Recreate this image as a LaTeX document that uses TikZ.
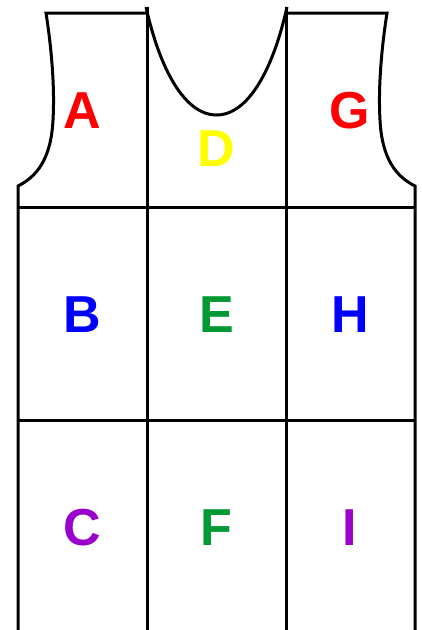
\documentclass[tikz,border=0pt]{standalone}
\usepackage{fontspec}
\setmainfont{Liberation Sans}
\usepackage{xcolor}
\usepackage{tikz}
\usetikzlibrary{positioning}
\definecolor{ltrred}{RGB}{255,0,0}
\definecolor{ltryellow}{RGB}{255,255,0}
\definecolor{ltrblue}{RGB}{0,0,255}
\definecolor{ltrgreen}{RGB}{0,153,51}
\definecolor{ltrpurple}{RGB}{153,0,204}
\begin{document}
\begin{tikzpicture}[
  x=1pt, y=-1pt,
  seam/.style={draw=black, line width=3pt, line join=miter},
  ltr/.style={inner sep=0pt, font=\fontsize{52}{52}\selectfont\bfseries},
]
\useasboundingbox (0,0) rectangle (422,630);
% outline of the vest
\draw[seam] (18,630) -- (18,186)
  .. controls (36,177) and (51,160) .. (53,120)
  .. controls (55,85) and (51,45) .. (46,13) -- (147,13);
\draw[seam] (415,630) -- (415,186)
  .. controls (397,177) and (382,160) .. (380,120)
  .. controls (378,85) and (382,45) .. (387,13) -- (286,13);
% neckline
\draw[seam] (146,7) .. controls (160,70) and (185,115) .. (216.5,115)
  .. controls (248,115) and (273,70) .. (287,7);
% grid
\draw[seam] (147,7) -- (147,630);
\draw[seam] (286,7) -- (286,630);
\draw[seam] (18,207) -- (415,207);
\draw[seam] (18,420) -- (415,420);
% labels
\node[ltr, text=ltrred] (a) at (82,110.5) {A};
\node[ltr, text=ltrblue] (b) at (82,315) {B};
\node[ltr, text=ltrpurple] (c) at (82,527.5) {C};
\node[ltr, text=ltryellow] (d) at (216.5,148.5) {D};
\node[ltr, text=ltrgreen] (e) at (216.5,315) {E};
\node[ltr, text=ltrgreen] (f) at (216.5,527.5) {F};
\node[ltr, text=ltrred] (g) at (350,110.5) {G};
\node[ltr, text=ltrblue] (h) at (350,315) {H};
\node[ltr, text=ltrpurple] (i) at (350,527.5) {I};
\end{tikzpicture}
\end{document}
